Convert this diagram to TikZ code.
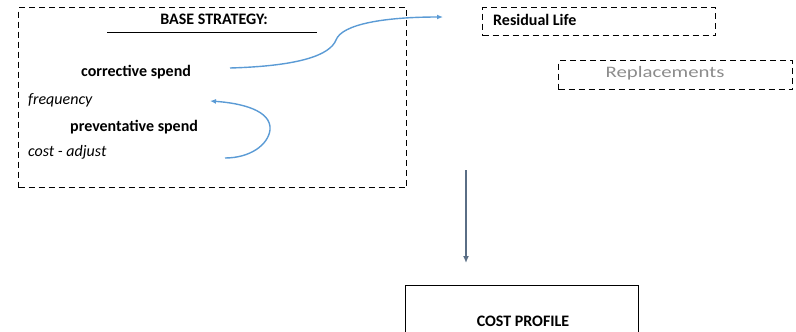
\documentclass[tikz,border=0pt]{standalone}
\usepackage{fontspec}
\setmainfont{Carlito}
\usetikzlibrary{arrows.meta}
\definecolor{lblue}{HTML}{5B9BD5}
\definecolor{slate}{HTML}{5A6E85}
\definecolor{rgray}{HTML}{8C8C8C}
\begin{document}
\begin{tikzpicture}[x=1pt,y=-1pt,
  dbox/.style={draw, line width=1.1pt, dash pattern=on 6pt off 4pt, inner sep=0pt},
  sbox/.style={draw, line width=1pt, inner sep=0pt},
  bt/.style={font=\bfseries\fontsize{16}{18}\selectfont, inner sep=0pt},
  itx/.style={font=\itshape\fontsize{16}{18}\selectfont, inner sep=0pt},
  barrow/.style={draw=lblue, line width=1.4pt, -{Latex[length=6pt,width=5pt]}},
  garrow/.style={draw=slate, line width=1.6pt, -{Latex[length=7pt,width=6pt]}}]
\useasboundingbox (0,0) rectangle (796,332);
\clip (0,0) rectangle (796,332);
% base strategy box
\node[dbox, minimum width=388pt, minimum height=180pt, anchor=north west] (base) at (18,7) {};
\node[bt] (title) at (214,19) {BASE STRATEGY:};
\coordinate (ulA) at (107,32);
\coordinate (ulB) at (317,32);
\draw[line width=1pt] (ulA) -- (ulB);
\node[bt, anchor=west] (corr) at (81,72) {corrective spend};
\node[itx, anchor=west] (freq) at (28,100) {frequency};
\node[bt, anchor=west] (prev) at (70,127) {preventative spend};
\node[itx, anchor=west] (cost) at (28,152) {cost - adjust};
% residual life
\node[dbox, minimum width=233pt, minimum height=28pt, anchor=north west] (resid) at (482,7) {};
\node[bt, anchor=west] (residt) at (493,20) {Residual Life};
% replacements
\node[dbox, minimum width=234pt, minimum height=29pt, anchor=north west] (repl) at (558,60) {};
\node[text=rgray, font=\fontsize{16}{18}\selectfont, inner sep=0pt] (replt) at (665,73) {\scalebox{1.3}[1]{Replacements}};
% cost profile
\node[sbox, minimum width=233pt, minimum height=60pt, anchor=north west] (costp) at (405,285) {};
\node[bt] (costpt) at (523,321) {COST PROFILE};
% arrows
\coordinate (a1s) at (230,68);
\coordinate (a1e) at (443,17);
\draw[barrow] (a1s) .. controls (300,66) and (330,55) .. (336,40) .. controls (342,24) and (385,17) .. (a1e);
\coordinate (a2s) at (225,158);
\coordinate (a2e) at (210,101);
\draw[barrow] (a2s) .. controls (250,158) and (268,145) .. (270,130) .. controls (272,110) and (240,103) .. (a2e);
\coordinate (vtop) at (466,170);
\coordinate (vbot) at (466,263);
\draw[garrow] (vtop) -- (vbot);
\end{tikzpicture}
\end{document}
